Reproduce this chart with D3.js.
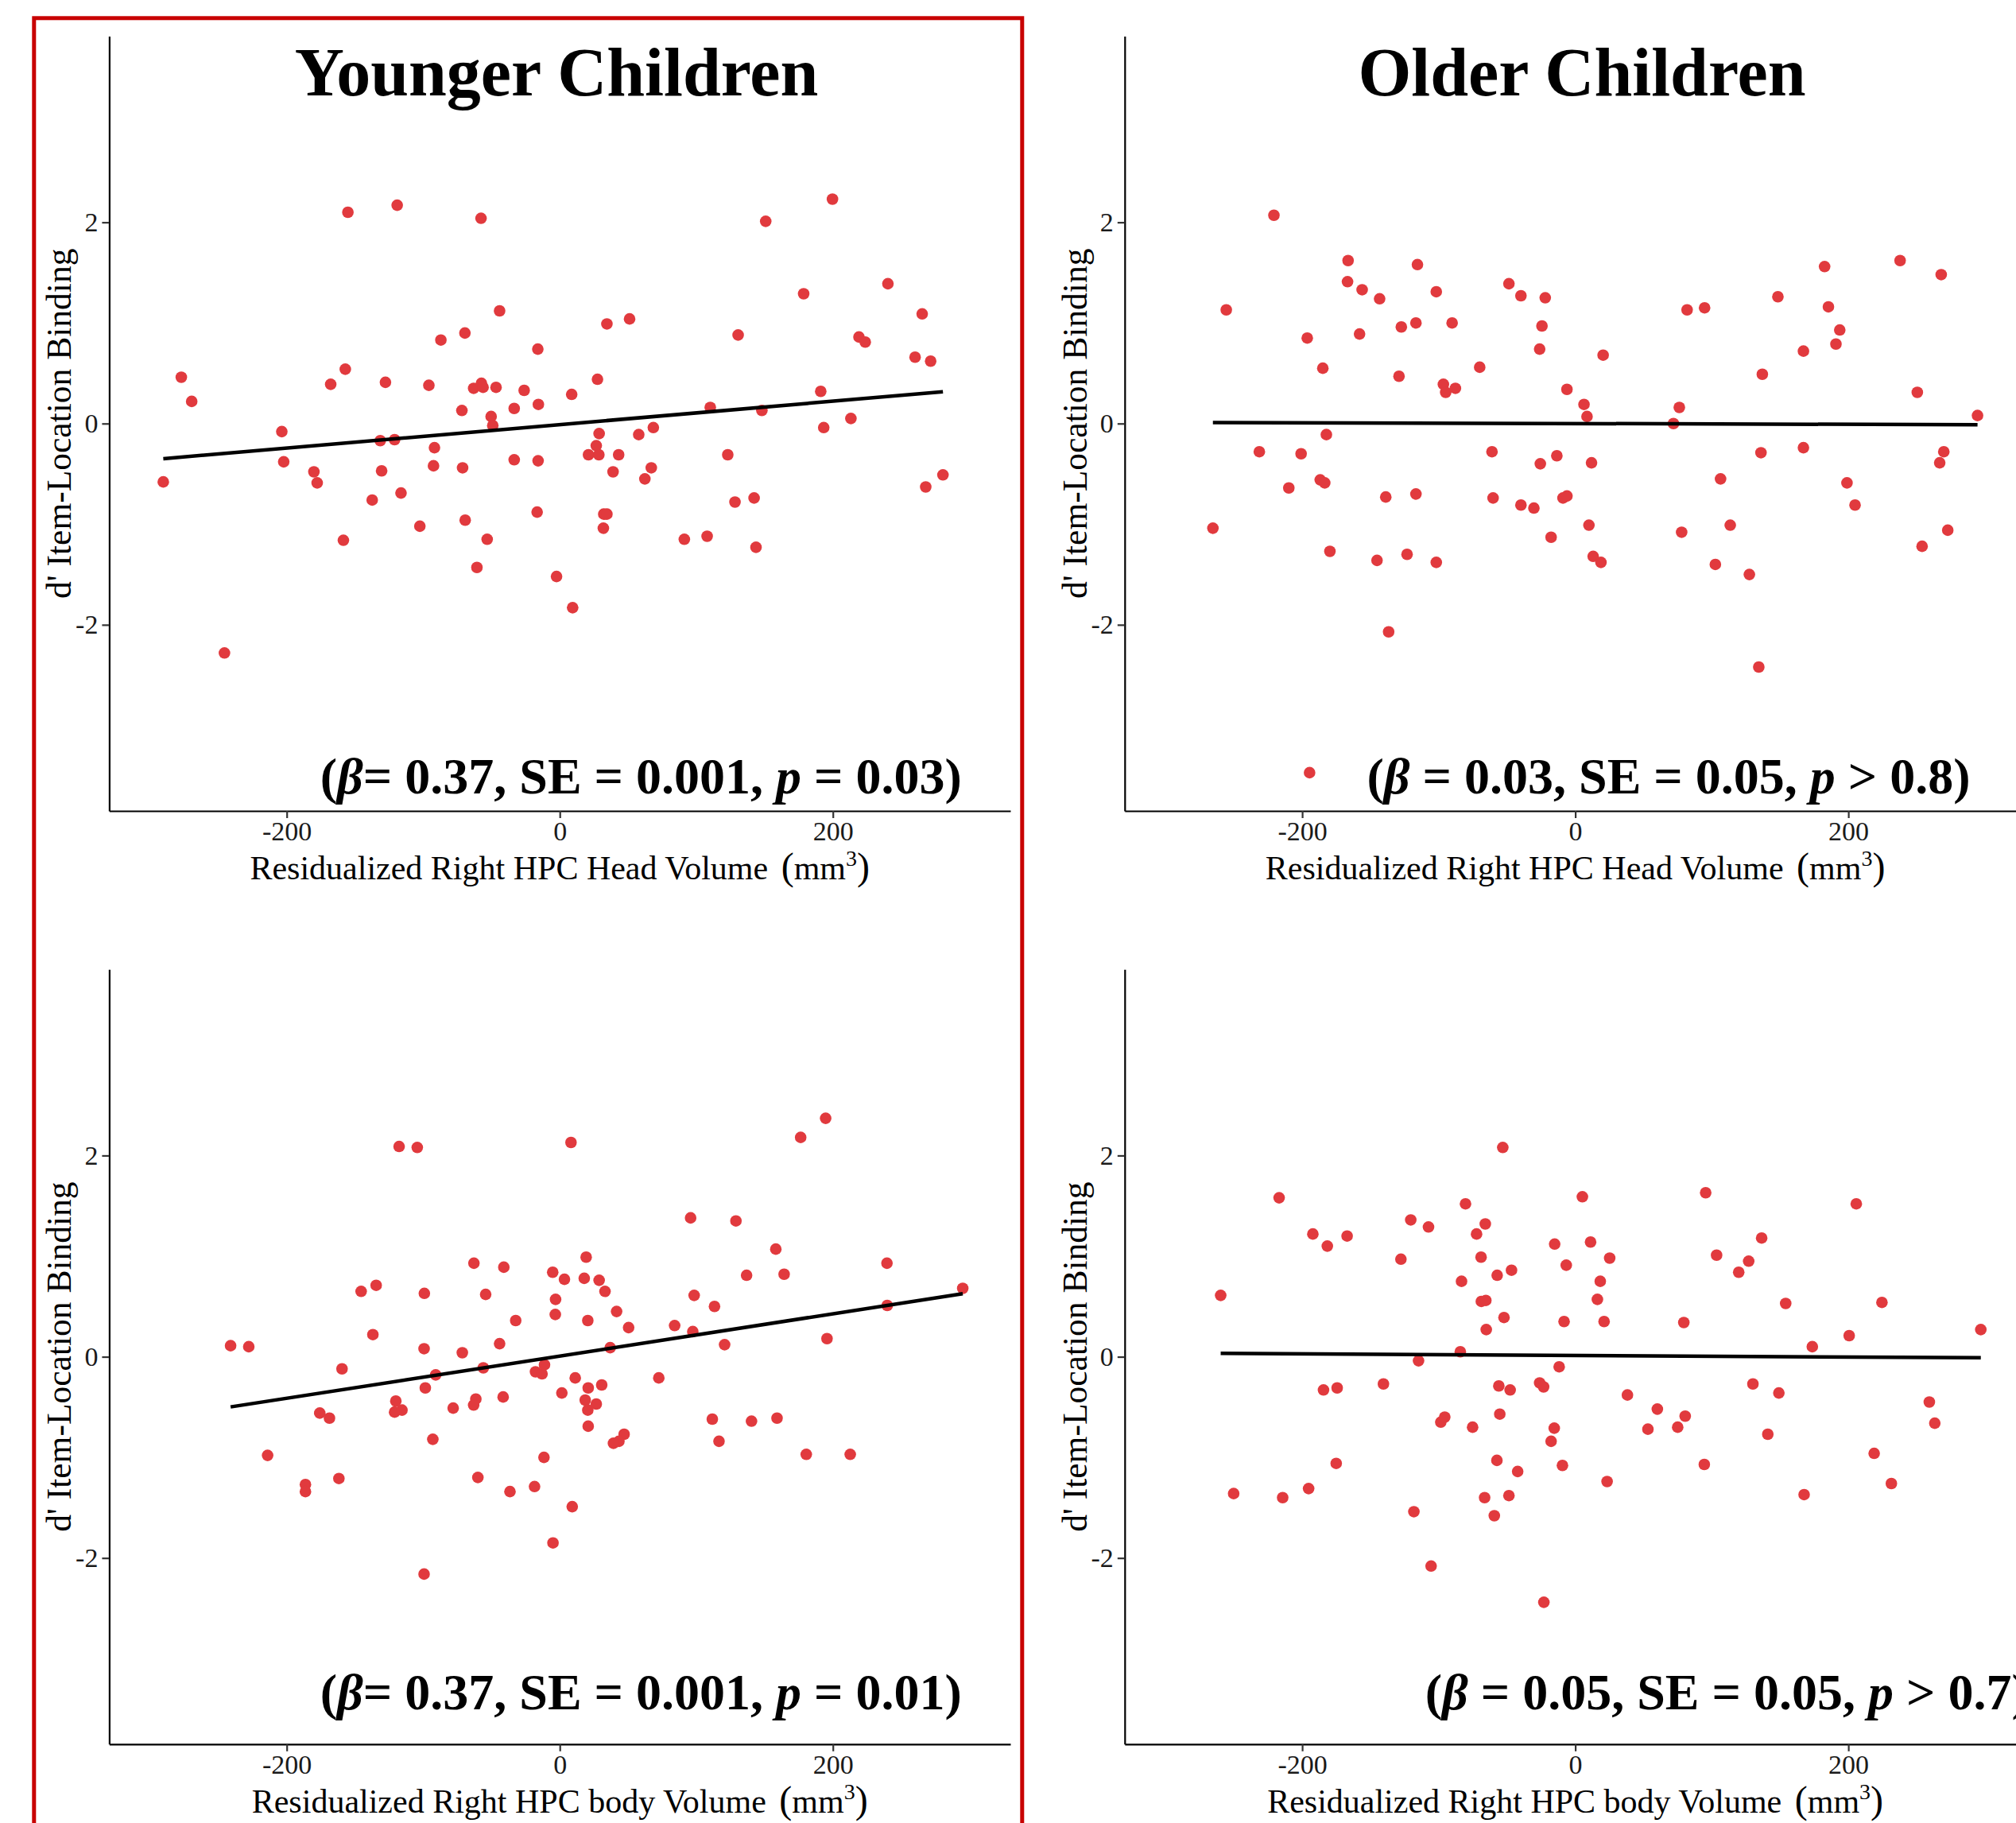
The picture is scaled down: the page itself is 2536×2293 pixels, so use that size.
<!DOCTYPE html>
<html>
<head>
<meta charset="utf-8">
<script src="https://cdn.jsdelivr.net/npm/d3@7"></script>
<style>
  body { margin: 0; background: #fff; overflow: hidden; }
  svg { display: block; }
  text { font-family: "Liberation Serif", "Times New Roman", serif; }
</style>
</head>
<body>
<div id="chart"></div>
<script>
// ---- data ----
var xTicks = [-200, 0, 200];
var yTicks = [-2, 0, 2];
var titles = ["Younger Children", "Older Children"];
var xLabels = ["Residualized Right HPC Head Volume", "Residualized Right HPC body Volume"];
var yLabel = "d' Item-Location Binding";

// stats annotations, split so beta and p can be italic
var statsYoungHead = [["(", 0], ["\u03b2", 1], ["= 0.37, SE = 0.001, ", 0], ["p", 1], [" = 0.03)", 0]];
var statsOldHead   = [["(", 0], ["\u03b2", 1], [" = 0.03, SE = 0.05, ", 0], ["p", 1], [" > 0.8)", 0]];
var statsYoungBody = [["(", 0], ["\u03b2", 1], ["= 0.37, SE = 0.001, ", 0], ["p", 1], [" = 0.01)", 0]];
var statsOldBody   = [["(", 0], ["\u03b2", 1], [" = 0.05, SE = 0.05, ", 0], ["p", 1], [" > 0.7)", 0]];

var youngHeadX = [-155.2, -119.1, -57.7, -44.1, -69.5, -87.1, -16.1, -277.2, -269.6, -157.1, -167.8, -127.7, -95.9, -63.1, -57.4, -56.2, -46.7, -26.1, -71.7, -50.3, -49.1, -33.4, -15.7, -203.6, -202.2, -290.4, -180.1, -177.7, -131.5, -121.0, -130.5, -91.8, -92.5, -71.2, -33.4, -15.9, -116.3, -137.4, -102.5, -69.3, -53.2, -158.5, -60.7, -16.6, -2.4, -245.6,
  9.4, 27.6, 34.5, 51.1, 28.8, 26.7, 21.0, 28.6, 43.1, 39.0, 57.8, 68.5, 67.0, 62.3, 32.2, 34.5, 31.9, 8.7, 91.2, 107.9, 143.7, 128.3, 142.3, 123.0, 110.2, 148.0, 130.6, 150.8, 199.7, 178.6, 240.3, 265.4, 219.1, 223.7, 260.2, 271.6, 191.1, 193.3, 213.2, 280.6, 268.0];
var youngHeadY = [2.10, 2.17, 2.04, 1.12, 0.90, 0.83, 0.74, 0.46, 0.22, 0.54, 0.39, 0.41, 0.38, 0.35, 0.40, 0.36, 0.36, 0.33, 0.13, 0.07, -0.02, 0.15, 0.19, -0.08, -0.38, -0.58, -0.48, -0.59, -0.17, -0.16, -0.47, -0.24, -0.42, -0.44, -0.36, -0.37, -0.69, -0.76, -1.02, -0.96, -1.15, -1.16, -1.43, -0.88, -1.52, -2.28,
  -1.83, 0.44, 0.99, 1.04, -0.10, -0.22, -0.31, -0.31, -0.31, -0.48, -0.11, -0.04, -0.44, -0.55, -0.90, -0.90, -1.04, 0.29, -1.15, -1.12, -1.23, -0.78, -0.74, -0.31, 0.16, 0.13, 0.88, 2.01, 2.23, 1.29, 1.39, 1.09, 0.86, 0.81, 0.66, 0.62, 0.32, -0.04, 0.05, -0.51, -0.63];

var oldHeadX = [-220.7, -255.6, -166.4, -166.8, -156.1, -143.3, -115.6, -101.8, -48.6, -39.8, -22.0, -24.4, -26.1, -6.1, -70.0, -90.2, -116.7, -127.4, -158.0, -196.3, -184.9, -129.1, -96.6, -94.9, -87.8, -182.3, -231.4, -200.8, -186.8, -183.5, -209.8, -265.4, -138.8, -116.7, -61.0, -60.2, -39.8, -30.3, -25.6, -13.5, -9.0, -6.1, -17.7, -179.7, -145.2, -123.2, -101.8, -136.7,
  6.4, 8.6, 11.9, 10.0, 13.1, 18.8, 20.4, 76.2, 71.9, 81.9, 94.7, 77.9, 106.4, 113.5, 102.6, 127.5, 134.4, 136.0, 137.0, 148.4, 167.1, 167.1, 182.6, 185.4, 193.7, 190.9, 199.0, 204.9, 237.9, 268.0, 250.5, 269.9, 266.9, 254.0, 272.8, 294.6, -194.6];
var oldHeadY = [2.07, 1.13, 1.62, 1.41, 1.33, 1.24, 1.58, 1.31, 1.39, 1.27, 1.25, 0.97, 0.74, 0.34, 0.56, 1.00, 1.00, 0.96, 0.89, 0.85, 0.55, 0.47, 0.39, 0.31, 0.35, -0.11, -0.28, -0.30, -0.56, -0.59, -0.64, -1.04, -0.73, -0.70, -0.28, -0.74, -0.81, -0.84, -0.40, -0.32, -0.74, -0.72, -1.13, -1.27, -1.36, -1.30, -1.38, -2.07,
  0.19, 0.07, -0.39, -1.01, -1.32, -1.38, 0.68, 0.16, 0.00, 1.13, 1.15, -1.08, -0.55, -1.01, -1.40, -1.50, -2.42, -0.29, 0.49, 1.26, 0.72, -0.24, 1.56, 1.16, 0.93, 0.79, -0.59, -0.81, 1.62, 1.48, 0.31, -0.28, -0.39, -1.22, -1.06, 0.08, -3.47];

var youngBodyX = [-117.7, -104.4, -241.1, -227.8, -145.5, -134.5, -99.2, -136.9, -99.4, -159.5, -175.8, -168.7, -214.0, -186.3, -186.3, -161.8, -120.1, -121.0, -115.6, -98.5, -90.9, -93.0, -99.4, -78.1, -71.4, -62.9, -54.3, -41.0, -44.1, -32.3, -56.0, -61.5, -63.1, -41.5, -60.0, -36.5, -18.5, -11.6, -5.0, -5.2, -3.1, -3.3, -17.8, -13.0, -11.2,
  8.2, 3.4, 19.3, 17.9, 28.8, 33.1, 20.5, 41.6, 50.4, 36.9, 11.3, 20.8, 30.7, 1.5, 18.6, 26.7, 20.5, 20.8, 9.1, 47.1, 43.3, 39.3, 72.5, 84.1, 97.4, 98.4, 95.8, 129.0, 113.3, 120.7, 136.8, 158.2, 164.3, 111.7, 140.4, 116.6, 159.1, 180.5, 212.7, 176.4, 194.7, 195.7, 239.6, 239.8, 295.1];
var youngBodyY = [2.09, 2.08, 0.11, 0.10, 0.65, 0.71, 0.63, 0.22, 0.08, -0.12, -0.56, -0.61, -0.98, -1.27, -1.34, -1.21, -0.44, -0.55, -0.53, -0.31, -0.18, -0.82, -2.16, -0.51, 0.04, 0.93, 0.62, 0.89, 0.13, 0.36, -0.11, -0.42, -0.48, -0.40, -1.20, -1.34, -1.29, -1.00, -1.85, 0.84, 0.57, 0.42, -0.15, -0.17, -0.08,
  2.13, 0.77, 0.99, 0.78, 0.76, 0.65, 0.36, 0.45, 0.29, 0.09, -0.21, -0.31, -0.28, -0.36, -0.43, -0.47, -0.53, -0.69, -1.49, -0.77, -0.84, -0.86, -0.21, 0.31, 0.25, 0.61, 1.38, 1.35, 0.50, 0.12, 0.81, 1.07, 0.82, -0.62, -0.64, -0.84, -0.61, -0.97, -0.97, 2.18, 2.37, 0.18, 0.93, 0.51, 0.68];

var oldBodyX = [-216.9, -259.7, -192.2, -181.6, -167.1, -120.5, -107.5, -127.7, -80.4, -65.9, -72.3, -53.1, -69.0, -83.3, -57.2, -46.7, -68.8, -65.5, -52.2, -65.2, -84.2, -114.8, -15.1, -6.6, -8.2, -11.8, -26.1, -23.2, -56.0, -47.7, -140.5, -184.4, -174.4, -98.5, -95.6, -75.2, -55.3, -15.4, -17.7, -9.4, -57.4, -42.2, -66.4, -48.6, -59.3, -118.2, -105.6, -23.0, -175.1, -195.3, -214.3, -250.2,
  5.2, 11.2, 25.2, 18.3, 16.2, 21.1, 23.3, 38.2, 60.1, 53.2, 75.0, 80.5, 79.5, 94.5, 95.5, 103.5, 119.7, 127.0, 136.5, 130.1, 149.1, 141.0, 154.1, 173.6, 167.6, 200.6, 205.8, 224.6, 218.9, 231.5, 259.3, 263.3, 297.0];
var oldBodyY = [1.58, 0.61, 1.22, 1.10, 1.20, 1.36, 1.29, 0.97, 1.52, 1.32, 1.22, 2.08, 0.99, 0.75, 0.81, 0.86, 0.55, 0.56, 0.39, 0.27, 0.05, -0.04, 1.12, 0.91, 0.35, -0.10, -0.26, -0.30, -0.29, -0.33, -0.27, -0.33, -0.31, -0.65, -0.60, -0.70, -0.57, -0.71, -0.84, -1.08, -1.03, -1.14, -1.40, -1.38, -1.58, -1.54, -2.08, -2.44, -1.06, -1.31, -1.40, -1.36,
  1.59, 1.14, 0.98, 0.75, 0.57, 0.35, -1.24, -0.38, -0.52, -0.72, -0.70, -0.59, 0.34, -1.07, 1.63, 1.01, 0.84, 0.95, 1.18, -0.27, -0.36, -0.77, 0.53, 0.10, -1.37, 0.21, 1.52, 0.54, -0.96, -1.26, -0.45, -0.66, 0.27];

// ---- layout ----
var width = 2536, height = 2293;
var plotW = 1133.6, plotH = 974.5;
var xDomain = [-330, 330], yDomain = [-3.85, 3.85];
var pointColor = "#e13a3e";

var panels = [
  {xs: youngHeadX, ys: youngHeadY, left: 137.4, top: 45.5, title: titles[0], titleX: 700, xLabel: xLabels[0], stats: statsYoungHead, statX: -175.5, statY: -3.68},
  {xs: oldHeadX, ys: oldHeadY, left: 1414.8, top: 45.5, title: titles[1], titleX: 1990, xLabel: xLabels[0], stats: statsOldHead, statX: -152.6, statY: -3.68},
  {xs: youngBodyX, ys: youngBodyY, left: 137.4, top: 1219.3, xLabel: xLabels[1], stats: statsYoungBody, statX: -175.5, statY: -3.5},
  {xs: oldBodyX, ys: oldBodyY, left: 1414.8, top: 1219.3, xLabel: xLabels[1], stats: statsOldBody, statX: -110, statY: -3.5}
];

var svg = d3.select("#chart").append("svg")
    .attr("width", width)
    .attr("height", height);

svg.append("rect")
    .attr("width", width).attr("height", height)
    .attr("fill", "#fff");

// simple least squares fit, like geom_smooth(method = "lm")
function fitLine(xs, ys) {
  var mx = d3.mean(xs), my = d3.mean(ys);
  var sxy = 0, sxx = 0;
  xs.forEach(function(v, i) {
    sxy += (v - mx) * (ys[i] - my);
    sxx += (v - mx) * (v - mx);
  });
  var b = sxy / sxx;
  return {a: my - b * mx, b: b};
}

panels.forEach(function(p) {
  var x = d3.scaleLinear().domain(xDomain).range([p.left, p.left + plotW]);
  var y = d3.scaleLinear().domain(yDomain).range([p.top + plotH, p.top]);
  var g = svg.append("g");

  // axes
  var xAxis = g.append("g")
      .attr("transform", "translate(0," + (p.top + plotH) + ")")
      .call(d3.axisBottom(x).tickValues(xTicks).tickSize(9).tickPadding(4)
        .tickSizeOuter(0).tickFormat(function(d) { return String(d); }));
  var yAxis = g.append("g")
      .attr("transform", "translate(" + p.left + ",0)")
      .call(d3.axisLeft(y).tickValues(yTicks).tickSize(9).tickPadding(5)
        .tickSizeOuter(0).tickFormat(function(d) { return String(d); }));

  [xAxis, yAxis].forEach(function(a) {
    a.attr("font-family", null).attr("font-size", null);
    a.select(".domain").attr("stroke", "#000").attr("stroke-width", 2.2);
    a.selectAll(".tick line").attr("stroke", "#333").attr("stroke-width", 2.2);
    a.selectAll(".tick text")
      .style("font-size", "34px")
      .attr("fill", "#1a1a1a");
  });

  // points
  g.append("g").selectAll("circle")
    .data(p.xs.map(function(v, i) { return [v, p.ys[i]]; }))
    .enter().append("circle")
      .attr("cx", function(d) { return x(d[0]); })
      .attr("cy", function(d) { return y(d[1]); })
      .attr("r", 7.3)
      .attr("fill", pointColor);

  // regression line over the data range
  var fit = fitLine(p.xs, p.ys);
  var ext = d3.extent(p.xs);
  g.append("line")
      .attr("x1", x(ext[0])).attr("y1", y(fit.a + fit.b * ext[0]))
      .attr("x2", x(ext[1])).attr("y2", y(fit.a + fit.b * ext[1]))
      .attr("stroke", "#000")
      .attr("stroke-width", 4.5);

  // stats annotation
  var st = g.append("text")
      .attr("x", x(p.statX))
      .attr("y", y(p.statY))
      .style("font-size", "64px")
      .style("font-weight", "bold")
      .attr("fill", "#000");
  p.stats.forEach(function(s) {
    st.append("tspan")
      .style("font-style", s[1] ? "italic" : "normal")
      .text(s[0]);
  });

  // title
  if (p.title) {
    g.append("text")
      .attr("x", p.titleX)
      .attr("y", 120)
      .attr("text-anchor", "middle")
      .style("font-size", "86px")
      .style("font-weight", "bold")
      .text(p.title);
  }

  // y label
  g.append("text")
      .attr("transform", "rotate(-90)")
      .attr("x", -(p.top + plotH / 2))
      .attr("y", p.left - 48)
      .attr("text-anchor", "middle")
      .style("font-size", "43.5px")
      .text(yLabel);

  // x label with superscript and tall brackets
  var xl = g.append("text")
      .attr("x", x(0))
      .attr("y", p.top + plotH + 86)
      .attr("text-anchor", "middle")
      .style("font-size", "42px");
  xl.append("tspan").text(p.xLabel + " ");
  xl.append("tspan").attr("dx", 6).style("font-size", "48px").text("(");
  xl.append("tspan").text("mm");
  xl.append("tspan").attr("dy", -17).style("font-size", "28px").text("3");
  xl.append("tspan").attr("dy", 17).style("font-size", "48px").text(")");
});

// red frame round the younger children column
svg.append("rect")
    .attr("x", 42.8)
    .attr("y", 22.8)
    .attr("width", 1243)
    .attr("height", 2400)
    .attr("fill", "none")
    .attr("stroke", "#c80000")
    .attr("stroke-width", 5);
</script>
</body>
</html>
